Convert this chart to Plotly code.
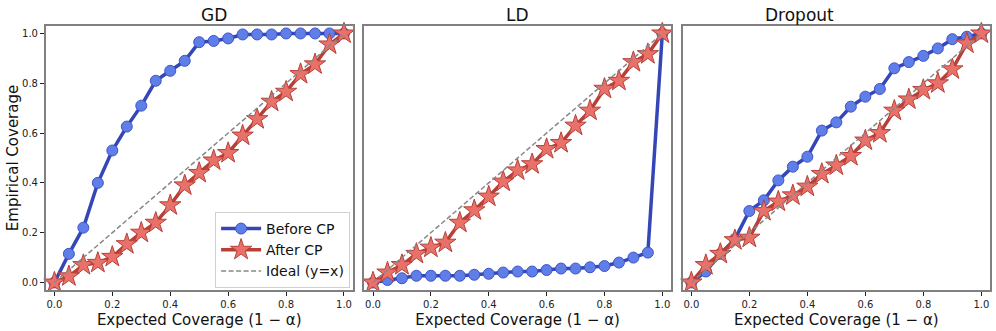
"""Calibration curves before / after conformal prediction for three samplers."""

import plotly.graph_objects as go
from plotly.subplots import make_subplots

expected = [0.0, 0.05, 0.1, 0.15, 0.2, 0.25, 0.3, 0.35, 0.4, 0.45, 0.5,
            0.55, 0.6, 0.65, 0.7, 0.75, 0.8, 0.85, 0.9, 0.95, 1.0]

panel_titles = ["GD", "LD", "Dropout"]

gd_before = [0.0, 0.115, 0.22, 0.40, 0.53, 0.626, 0.71, 0.81, 0.85, 0.89, 0.965,
             0.97, 0.98, 0.996, 0.996, 0.996, 1.0, 1.0, 1.0, 1.0, 1.0]
gd_after = [0.0, 0.025, 0.07, 0.079, 0.103, 0.154, 0.2, 0.24, 0.31, 0.39, 0.44,
            0.49, 0.52, 0.59, 0.656, 0.726, 0.766, 0.837, 0.876, 0.956, 1.0]

ld_before = [0.0, 0.01, 0.017, 0.027, 0.027, 0.027, 0.027, 0.031, 0.035, 0.04, 0.044,
             0.044, 0.05, 0.056, 0.056, 0.061, 0.066, 0.08, 0.10, 0.12, 1.0]
ld_after = [0.0, 0.04, 0.07, 0.115, 0.14, 0.16, 0.24, 0.29, 0.345, 0.405, 0.45,
            0.475, 0.536, 0.56, 0.63, 0.69, 0.778, 0.81, 0.885, 0.917, 1.0]

dropout_before = [0.0, 0.044, 0.115, 0.174, 0.287, 0.33, 0.41, 0.465, 0.505, 0.61, 0.643,
                  0.706, 0.746, 0.777, 0.86, 0.885, 0.91, 0.94, 0.977, 0.987, 1.0]
dropout_after = [0.0, 0.07, 0.115, 0.17, 0.18, 0.287, 0.325, 0.35, 0.385, 0.436, 0.47,
                 0.508, 0.57, 0.60, 0.69, 0.735, 0.773, 0.80, 0.856, 0.96, 1.0]

ideal = [0.0, 1.0]
tick_vals = [0.0, 0.2, 0.4, 0.6, 0.8, 1.0]
tick_text = ["0.0", "0.2", "0.4", "0.6", "0.8", "1.0"]

BLUE_LINE = "#3446b8"
BLUE_FILL = "#5f7ee8"
BLUE_EDGE = "#3d55c8"
RED_LINE = "#b83f38"
RED_FILL = "#e8716a"
RED_EDGE = "#b84038"
FRAME = "#808080"

series = [(gd_before, gd_after), (ld_before, ld_after), (dropout_before, dropout_after)]

fig = make_subplots(rows=1, cols=3, shared_yaxes=True)

for i, (before, after) in enumerate(series):
    col = i + 1
    first = i == 0
    fig.add_trace(
        go.Scatter(
            x=expected, y=before, mode="lines+markers", name="Before CP",
            line={"color": BLUE_LINE, "width": 3.5},
            marker={"symbol": "circle", "size": 11, "color": BLUE_FILL,
                    "line": {"color": BLUE_EDGE, "width": 1}},
            showlegend=first, cliponaxis=False,
        ),
        row=1, col=col,
    )
    fig.add_trace(
        go.Scatter(
            x=expected, y=after, mode="lines+markers", name="After CP",
            line={"color": RED_LINE, "width": 3.5},
            marker={"symbol": "star", "size": 16, "color": RED_FILL,
                    "line": {"color": RED_EDGE, "width": 1}},
            showlegend=first, cliponaxis=False,
        ),
        row=1, col=col,
    )
    fig.add_trace(
        go.Scatter(
            x=ideal, y=ideal, mode="lines", name="Ideal (y=x)",
            line={"color": "#888888", "width": 1.5, "dash": "5px,2.5px"},
            showlegend=first,
        ),
        row=1, col=col,
    )

domains = [[0.0459, 0.3541], [0.3658, 0.6737], [0.6854, 0.994]]
y_domain = [0.124, 0.9215]

for i, dom in enumerate(domains):
    suffix = "" if i == 0 else str(i + 1)
    fig.layout["xaxis" + suffix].update(
        domain=dom, range=[-0.03, 1.03], tickvals=tick_vals, ticktext=tick_text,
        ticks="outside", ticklen=4, tickcolor="#222222", showgrid=False, zeroline=False,
        showline=True, linecolor=FRAME, linewidth=1.5, mirror=True, automargin=False,
        tickfont={"size": 10, "color": "#222222"},
        title={"text": "Expected Coverage (1 \u2212 \u03b1)", "font": {"size": 15, "color": "#111111"},
               "standoff": 6},
    )
    fig.layout["yaxis" + suffix].update(
        domain=y_domain, range=[-0.03, 1.03], tickvals=tick_vals, ticktext=tick_text,
        ticks="outside" if i == 0 else "", ticklen=4, tickcolor="#222222",
        showticklabels=(i == 0), showgrid=False, zeroline=False, automargin=False,
        showline=True, linecolor=FRAME, linewidth=1.5, mirror=True,
        tickfont={"size": 10, "color": "#222222"},
    )
    fig.add_annotation(
        text=panel_titles[i], x=(dom[0] + dom[1]) / 2, y=1.0 - 15 / 331,
        xref="paper", yref="paper", showarrow=False, yanchor="middle",
        font={"size": 17, "color": "#111111"},
    )

fig.layout.yaxis.update(title={"text": "Empirical Coverage", "font": {"size": 15, "color": "#111111"},
                               "standoff": 0})

fig.update_layout(
    width=996, height=331,
    margin={"l": 0, "r": 0, "t": 0, "b": 0},
    paper_bgcolor="white", plot_bgcolor="white",
    font={"family": "DejaVu Sans, sans-serif", "color": "#111111"},
    legend={
        "x": 0.3515, "y": 0.13, "xanchor": "right", "yanchor": "bottom",
        "bgcolor": "rgba(255,255,255,0.85)", "bordercolor": "#d0d0d0", "borderwidth": 1,
        "font": {"size": 14}, "tracegroupgap": 0, "itemwidth": 40,
    },
)

# the page's default body margin would shift the figure; drop it
fig.write_html(
    "out.html",
    config={"displayModeBar": False},
    post_script="document.body.style.margin = '0';",
)
